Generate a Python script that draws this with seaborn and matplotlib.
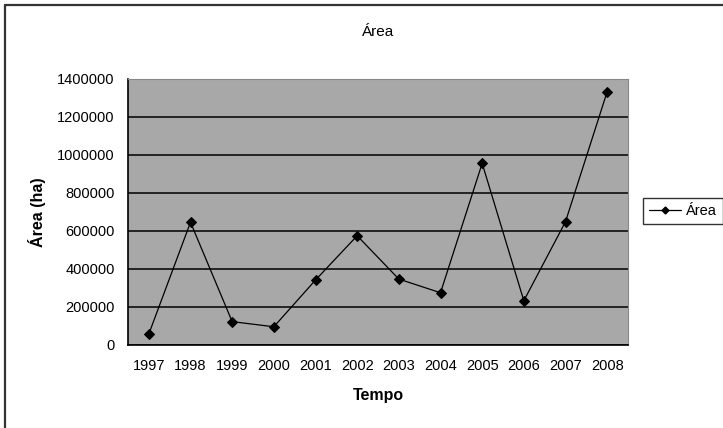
import matplotlib
matplotlib.use("Agg")
import matplotlib.pyplot as plt
from matplotlib.lines import Line2D
import seaborn as sns
import numpy as np
import pandas as pd

years = ["1997", "1998", "1999", "2000", "2001", "2002",
         "2003", "2004", "2005", "2006", "2007", "2008"]
area = [58000, 646000, 123000, 96000, 342000, 575000,
        347000, 275000, 956000, 233000, 649000, 1333000]
yticks = [0, 200000, 400000, 600000, 800000, 1000000, 1200000, 1400000]

sns.set_theme(style="white")
plt.rcParams['font.family'] = ['Liberation Sans', 'DejaVu Sans']
plt.rcParams['text.color'] = 'black'
plt.rcParams['axes.labelcolor'] = 'black'
plt.rcParams['xtick.color'] = 'black'
plt.rcParams['ytick.color'] = 'black'

df = pd.DataFrame({"pos": np.arange(len(years)), "Ano": years, "Área": area})

fig = plt.figure(figsize=(7.23, 4.28), dpi=100)
ax = fig.add_axes([128/723, 1-345/428, 500/723, 266/428])
ax.set_facecolor("#A8A8A8")

sns.lineplot(data=df, x="pos", y="Área", ax=ax, color="black", linewidth=0.9,
             marker="D", markersize=5, markeredgecolor="black", label="Área",
             legend=False)

ax.set_xlim(-0.5, len(years) - 0.5)
ax.set_ylim(0, 1400000)
ax.set_yticks(yticks)
ax.set_yticklabels([str(v) for v in yticks], fontsize=10.5)
ax.set_xticks(np.arange(len(years)))
ax.set_xticklabels(years, fontsize=10.5)
ax.set_xticks(np.arange(-0.5, len(years)), minor=True)
ax.tick_params(axis="x", which="major", length=0, pad=10)
ax.tick_params(axis="x", which="minor", length=4.5, width=1, color="black", direction="out")
ax.tick_params(axis="y", which="major", length=4.5, width=1, color="black", direction="out", pad=5)

ax.yaxis.grid(True, color="black", linewidth=1.1)
ax.xaxis.grid(False)
ax.set_axisbelow(True)

for side in ["left", "bottom"]:
    ax.spines[side].set_color("black")
    ax.spines[side].set_linewidth(1.2)
for side in ["top", "right"]:
    ax.spines[side].set_color("#888888")
    ax.spines[side].set_linewidth(0.8)

ax.set_xlabel("Tempo", fontsize=11.5, fontweight="bold", labelpad=11)
ax.set_ylabel("Área (ha)", fontsize=11.5, fontweight="bold", labelpad=8)
ax.set_title("Área", fontsize=11, pad=31)

handle = Line2D([], [], color="black", linewidth=0.9, marker="D", markersize=3.5)
leg = fig.legend(handles=[handle], labels=["Área"], loc="center left",
                 bbox_to_anchor=(643/723, 1-211/428), frameon=True, fancybox=False,
                 fontsize=10.5, handlelength=2.2, handletextpad=0.35, borderpad=0.4,
                 borderaxespad=0)
leg.get_frame().set_edgecolor("black")
leg.get_frame().set_linewidth(1.0)

# figure border (left and top visible)
fig.add_artist(Line2D([5/723, 5/723], [0, 1-5/428], transform=fig.transFigure,
                      color="#333333", linewidth=1.6))
fig.add_artist(Line2D([5/723, 1], [1-5/428, 1-5/428], transform=fig.transFigure,
                      color="#333333", linewidth=1.6))

fig.savefig("out.png", dpi=100)
